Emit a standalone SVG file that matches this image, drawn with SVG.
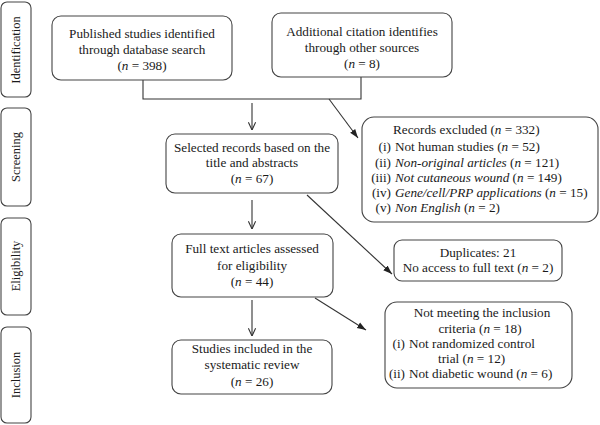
<svg xmlns="http://www.w3.org/2000/svg" width="600" height="425" viewBox="0 0 600 425" font-family="'Times New Roman', 'Liberation Serif', serif">
<defs>
<marker id="open" viewBox="0 0 10 10" refX="9.5" refY="5" markerWidth="9" markerHeight="9" orient="auto" markerUnits="userSpaceOnUse">
<path d="M1,1 L9.5,5 L1,9" fill="none" stroke="#333" stroke-width="1.2"/>
</marker>
<marker id="solid" viewBox="0 0 10 10" refX="10" refY="5" markerWidth="9" markerHeight="9" orient="auto" markerUnits="userSpaceOnUse">
<path d="M0,1.5 L10,5 L0,8.5 z" fill="#222"/>
</marker>
<style>
.box{fill:#fff;stroke:#444;stroke-width:1.1}
.t{font-family:"Times New Roman","Liberation Serif",serif;font-size:13.2px;fill:#1a1a1a}
.s{font-size:12.5px}
.c{text-anchor:middle}
.r{text-anchor:end}
.ln{fill:none;stroke:#333;stroke-width:1.1}
</style>
</defs>
<g id="stage-identification"><rect class="box" x="1" y="2" width="30" height="95" rx="6"/><text class="t c s" transform="translate(20,50) rotate(-90)">Identification</text></g>
<g id="stage-screening"><rect class="box" x="1" y="108" width="30" height="98" rx="6"/><text class="t c s" transform="translate(20,157) rotate(-90)">Screening</text></g>
<g id="stage-eligibility"><rect class="box" x="1" y="218" width="30" height="97" rx="6"/><text class="t c s" transform="translate(20,266) rotate(-90)">Eligibility</text></g>
<g id="stage-inclusion"><rect class="box" x="1" y="327" width="30" height="96" rx="6"/><text class="t c s" transform="translate(20,375) rotate(-90)">Inclusion</text></g>

<g id="connectors">
<path class="ln" d="M143,80 V99 H361 V77"/>
<line class="ln" x1="252" y1="103" x2="252" y2="130" marker-end="url(#open)"/>
<line class="ln" x1="329" y1="99" x2="358" y2="138" marker-end="url(#solid)"/>
<line class="ln" x1="252" y1="200" x2="252" y2="229" marker-end="url(#open)"/>
<line class="ln" x1="307" y1="195" x2="392" y2="274" marker-end="url(#solid)"/>
<line class="ln" x1="252" y1="300" x2="252" y2="336" marker-end="url(#open)"/>
<line class="ln" x1="315" y1="298" x2="366" y2="330" marker-end="url(#solid)"/>
</g>

<g id="published"><rect class="box" x="52" y="16" width="180" height="64" rx="9"/>
<text class="t c" x="142" y="38">Published studies identified</text>
<text class="t c" x="142" y="54">through database search</text>
<text class="t c" x="142" y="70">(<tspan font-style="italic">n</tspan> = 398)</text></g>

<g id="additional"><rect class="box" x="272" y="13" width="180" height="64" rx="9"/>
<text class="t c" x="362" y="36">Additional citation identifies</text>
<text class="t c" x="362" y="52">through other sources</text>
<text class="t c" x="362" y="68">(<tspan font-style="italic">n</tspan> = 8)</text></g>

<g id="selected"><rect class="box" x="166" y="134" width="172" height="59" rx="9"/>
<text class="t c" x="252" y="152">Selected records based on the</text>
<text class="t c" x="252" y="167">title and abstracts</text>
<text class="t c" x="252" y="183">(<tspan font-style="italic">n</tspan> = 67)</text></g>

<g id="excluded"><rect class="box" x="362" y="117" width="236" height="105" rx="12"/>
<text class="t" x="393" y="134">Records excluded (<tspan font-style="italic">n</tspan> = 332)</text>
<text class="t r" x="391" y="151">(i)</text><text class="t" x="395" y="151">Not human studies (<tspan font-style="italic">n</tspan> = 52)</text>
<text class="t r" x="391" y="167">(ii)</text><text class="t" x="395" y="167"><tspan font-style="italic">Non-original articles</tspan> (<tspan font-style="italic">n</tspan> = 121)</text>
<text class="t r" x="391" y="182">(iii)</text><text class="t" x="395" y="182"><tspan font-style="italic">Not cutaneous wound</tspan> (<tspan font-style="italic">n</tspan> = 149)</text>
<text class="t r" x="391" y="197">(iv)</text><text class="t" x="395" y="197"><tspan font-style="italic">Gene/cell/PRP applications</tspan> (<tspan font-style="italic">n</tspan> = 15)</text>
<text class="t r" x="391" y="212">(v)</text><text class="t" x="395" y="212"><tspan font-style="italic">Non English</tspan> (<tspan font-style="italic">n</tspan> = 2)</text></g>

<g id="fulltext"><rect class="box" x="172" y="234" width="161" height="63" rx="9"/>
<text class="t c" x="252" y="253">Full text articles assessed</text>
<text class="t c" x="252" y="270">for eligibility</text>
<text class="t c" x="252" y="286">(<tspan font-style="italic">n</tspan> = 44)</text></g>

<g id="duplicates"><rect class="box" x="394" y="240" width="168" height="41" rx="8"/>
<text class="t c" x="478" y="257">Duplicates: 21</text>
<text class="t c" x="478" y="272">No access to full text (<tspan font-style="italic">n</tspan> = 2)</text></g>

<g id="notmeeting"><rect class="box" x="385" y="302" width="187" height="86" rx="12"/>
<text class="t c" x="482" y="317">Not meeting the inclusion</text>
<text class="t c" x="480" y="333">criteria (<tspan font-style="italic">n</tspan> = 18)</text>
<text class="t r" x="405" y="348">(i)</text><text class="t" x="409" y="348">Not randomized control</text>
<text class="t" x="438" y="363">trial (<tspan font-style="italic">n</tspan> = 12)</text>
<text class="t r" x="405" y="378">(ii)</text><text class="t" x="409" y="378">Not diabetic wound (<tspan font-style="italic">n</tspan> = 6)</text></g>

<g id="included"><rect class="box" x="172" y="340" width="160" height="54" rx="9"/>
<text class="t c" x="252" y="353">Studies included in the</text>
<text class="t c" x="252" y="369">systematic review</text>
<text class="t c" x="252" y="386">(<tspan font-style="italic">n</tspan> = 26)</text></g>
</svg>
